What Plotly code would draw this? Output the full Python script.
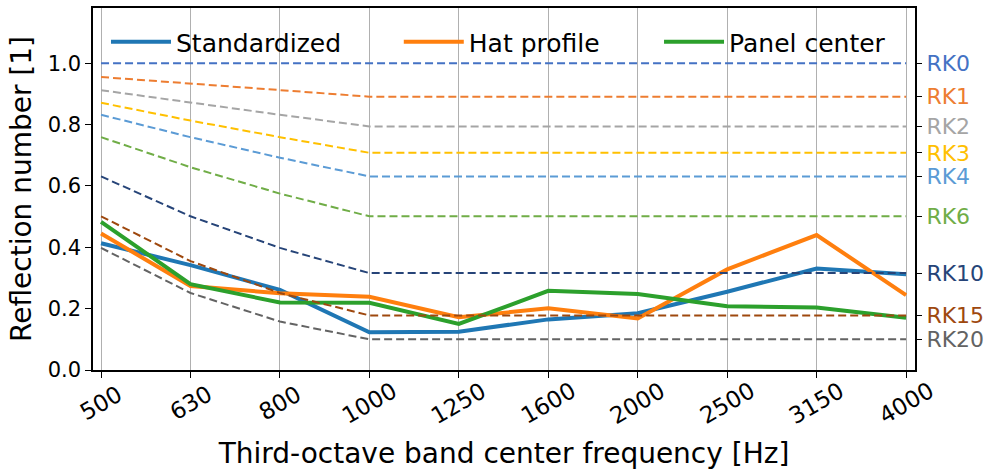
import plotly.graph_objects as go

freqs = ["500", "630", "800", "1000", "1250", "1600", "2000", "2500", "3150", "4000"]

standardized = [0.413, 0.342, 0.261, 0.123, 0.125, 0.165, 0.185, 0.255, 0.331, 0.312]
hat_profile = [0.445, 0.274, 0.250, 0.239, 0.172, 0.201, 0.168, 0.328, 0.440, 0.244]
panel_center = [0.483, 0.280, 0.220, 0.219, 0.150, 0.258, 0.248, 0.208, 0.204, 0.170]

rk_names = ["RK0", "RK1", "RK2", "RK3", "RK4", "RK6", "RK10", "RK15", "RK20"]
rk_colors = ["#4472C4", "#ED7D31", "#A5A5A5", "#FFC000", "#5B9BD5",
             "#70AD47", "#264478", "#9E480E", "#636363"]
rk_curves = [
    [1.000, 1.000, 1.000, 1.000, 1.000, 1.000, 1.000, 1.000, 1.000, 1.000],
    [0.955, 0.933, 0.912, 0.891, 0.891, 0.891, 0.891, 0.891, 0.891, 0.891],
    [0.912, 0.871, 0.832, 0.794, 0.794, 0.794, 0.794, 0.794, 0.794, 0.794],
    [0.871, 0.813, 0.759, 0.708, 0.708, 0.708, 0.708, 0.708, 0.708, 0.708],
    [0.832, 0.759, 0.692, 0.631, 0.631, 0.631, 0.631, 0.631, 0.631, 0.631],
    [0.759, 0.661, 0.575, 0.501, 0.501, 0.501, 0.501, 0.501, 0.501, 0.501],
    [0.631, 0.501, 0.398, 0.316, 0.316, 0.316, 0.316, 0.316, 0.316, 0.316],
    [0.501, 0.355, 0.251, 0.178, 0.178, 0.178, 0.178, 0.178, 0.178, 0.178],
    [0.398, 0.251, 0.158, 0.100, 0.100, 0.100, 0.100, 0.100, 0.100, 0.100],
]

xi = list(range(len(freqs)))
FONT = "DejaVu Sans"

fig = go.Figure()
main_series = [("Standardized", standardized, "#1f77b4", "legend"),
               ("Hat profile", hat_profile, "#ff7f0e", "legend2"),
               ("Panel center", panel_center, "#2ca02c", "legend3")]
for name, vals, col, lg in main_series:
    fig.add_trace(go.Scatter(x=xi, y=vals, mode="lines", name=name, legend=lg,
                             line=dict(color=col, width=4)))

for name, vals, col in zip(rk_names, rk_curves, rk_colors):
    fig.add_trace(go.Scatter(x=xi, y=vals, mode="lines", name=name, showlegend=False,
                             line=dict(color=col, width=2, dash="8px,4px")))

# invisible trace to activate right axis
fig.add_trace(go.Scatter(x=[xi[0]], y=[0], yaxis="y2", mode="markers",
                         marker=dict(opacity=0), showlegend=False, hoverinfo="skip"))

rk_end = [c[-1] for c in rk_curves]
rk_text = [f'<span style="color:{c}">{n}</span>' for n, c in zip(rk_names, rk_colors)]

# centered, rotated x tick labels (matplotlib style)
for i, f in zip(xi, freqs):
    fig.add_annotation(x=i, y=0, xref="x", yref="paper", text=f, showarrow=False,
                       textangle=-30, yshift=-33, font=dict(size=23, family=FONT),
                       xanchor="center", yanchor="middle")

leg_common = dict(orientation="h", y=0.906, xanchor="left", yanchor="middle",
                  font=dict(size=25, family=FONT), bgcolor="rgba(255,255,255,0)",
                  itemwidth=60)

fig.update_layout(
    width=995, height=470,
    margin=dict(l=93, r=80, t=8, b=100),
    plot_bgcolor="white", paper_bgcolor="white",
    font=dict(family=FONT, color="black"),
    showlegend=True,
    legend=dict(x=0.0158, **leg_common),
    legend2=dict(x=0.372, **leg_common),
    legend3=dict(x=0.6886, **leg_common),
    xaxis=dict(range=[-0.09, 9.1], tickmode="array", tickvals=xi, ticktext=freqs,
               showticklabels=False, showgrid=True, automargin=False,
               gridcolor="#b0b0b0", gridwidth=1, ticks="outside", ticklen=6,
               tickcolor="black", showline=True, linecolor="black", linewidth=1.5,
               mirror=True, zeroline=False,
               title=dict(text="Third-octave band center frequency [Hz]",
                          font=dict(size=28), standoff=68)),
    yaxis=dict(range=[0, 1.18], tickmode="array", tickvals=[0, 0.2, 0.4, 0.6, 0.8, 1.0],
               ticktext=["0.0", "0.2", "0.4", "0.6", "0.8", "1.0"],
               tickfont=dict(size=21), showgrid=False, ticks="outside", ticklen=6,
               tickcolor="black", showline=True, linecolor="black", linewidth=1.5,
               mirror=True, zeroline=False,
               title=dict(text="Reflection number [1]", font=dict(size=28), standoff=8)),
    yaxis2=dict(range=[0, 1.18], overlaying="y", side="right", tickmode="array",
                tickvals=rk_end, ticktext=rk_text, tickfont=dict(size=22),
                showgrid=False, ticks="outside", ticklen=6, tickcolor="black",
                showline=False, zeroline=False),
)

fig.write_html("out.html")
